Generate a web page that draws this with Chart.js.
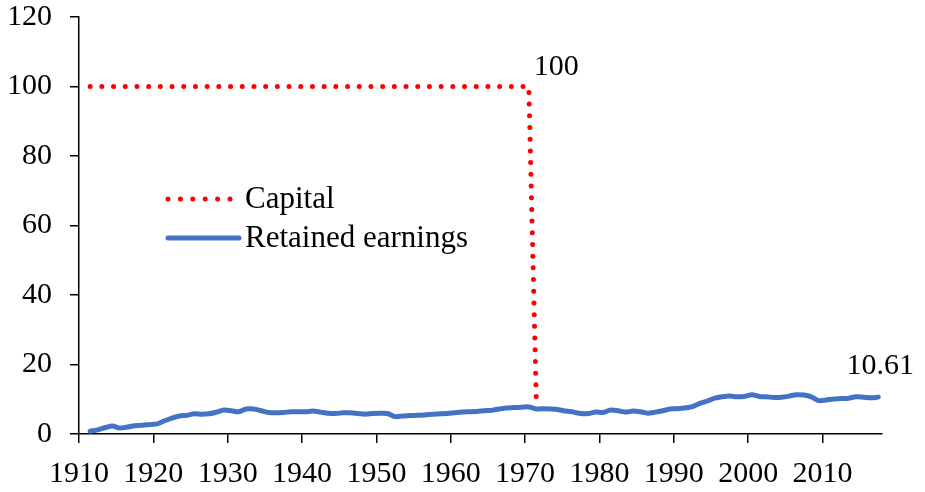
<!DOCTYPE html>
<html>
<head>
<meta charset="utf-8">
<script src="https://cdn.jsdelivr.net/npm/chart.js@4.4.1/dist/chart.umd.min.js"></script>
<style>
    html, body { margin: 0; padding: 0; background: #fff; }
    #wrap { width: 925px; height: 492px; position: relative; }
</style>
</head>
<body>
<div id="wrap"><canvas id="chart" width="925" height="492"></canvas></div>
<script>
// first and last year of the annual series
const firstYear = 1911;
const lastYear = 2017;

// capital, 1911 to 1971
const capital = [
    100, 100, 100, 100, 100, 100, 100, 100, 100, 100,
    100, 100, 100, 100, 100, 100, 100, 100, 100, 100,
    100, 100, 100, 100, 100, 100, 100, 100, 100, 100,
    100, 100, 100, 100, 100, 100, 100, 100, 100, 100,
    100, 100, 100, 100, 100, 100, 100, 100, 100, 100,
    100, 100, 100, 100, 100, 100, 100, 100, 100, 100,
    10
];

// retained earnings, 1911 to 2017
const retained = [
    0.8, 1.2, 1.8, 2.3, 1.7, 2.0, 2.4, 2.5, 2.7, 2.9,
    3.8, 4.6, 5.2, 5.4, 5.8, 5.7, 5.8, 6.3, 6.9, 6.7,
    6.4, 7.2, 7.2, 6.7, 6.2, 6.1, 6.2, 6.4, 6.4, 6.4,
    6.6, 6.3, 6.0, 5.9, 6.1, 6.1, 5.9, 5.7, 5.9, 6.0,
    5.9, 5.0, 5.2, 5.3, 5.4, 5.5, 5.7, 5.8, 5.9, 6.1,
    6.3, 6.4, 6.5, 6.7, 6.8, 7.2, 7.5, 7.6, 7.7, 7.8,
    7.2, 7.3, 7.2, 7.0, 6.6, 6.3, 5.9, 5.9, 6.3, 6.2,
    6.9, 6.7, 6.3, 6.6, 6.4, 6.0, 6.3, 6.7, 7.2, 7.3,
    7.5, 7.9, 8.8, 9.5, 10.3, 10.7, 10.9, 10.7, 10.8, 11.3,
    10.8, 10.7, 10.5, 10.6, 10.9, 11.3, 11.2, 10.7, 9.6, 9.8,
    10.1, 10.2, 10.3, 10.7, 10.6, 10.4, 10.61
];

const yTicks = [0, 20, 40, 60, 80, 100, 120];
const xTicks = [1910, 1920, 1930, 1940, 1950, 1960, 1970, 1980, 1990, 2000, 2010];

const legendLabels = ["Capital", "Retained earnings"];
const capitalLabel = "100";
const retainedLabel = "10.61";

const FONT = "\"Liberation Serif\", \"Times New Roman\", serif";
const FONT_SIZE = 30;
const RED = "#ff0000";
const BLUE = "#4472c4";

// each year sits in the middle of its one-year slot on the axis
function toPoints(values) {
    return values.map((v, i) => ({ x: firstYear + i + 0.5, y: v }));
}

const legendPlugin = {
    id: "insideLegend",
    afterDraw(chart) {
        const ctx = chart.ctx;
        const area = chart.chartArea;
        const x0 = area.left + 89;
        const x1 = area.left + 153;
        const tx = area.left + 166;
        const rows = [area.top + 182, area.top + 221];
        ctx.save();
        ctx.lineCap = "round";
        // dotted sample
        ctx.strokeStyle = RED;
        ctx.lineWidth = 5;
        ctx.setLineDash([0, 12.4]);
        ctx.beginPath();
        ctx.moveTo(x0, rows[0]);
        ctx.lineTo(x1 + 1, rows[0]);
        ctx.stroke();
        // solid sample
        ctx.strokeStyle = BLUE;
        ctx.lineWidth = 5;
        ctx.setLineDash([]);
        ctx.beginPath();
        ctx.moveTo(x0, rows[1]);
        ctx.lineTo(x1 + 7, rows[1]);
        ctx.stroke();
        ctx.fillStyle = "#000";
        ctx.font = "31px " + FONT;
        ctx.textBaseline = "middle";
        ctx.textAlign = "left";
        ctx.fillText(legendLabels[0], tx, rows[0] + 1);
        ctx.fillText(legendLabels[1], tx, rows[1] + 1);
        ctx.restore();
    }
};

const valueLabelPlugin = {
    id: "valueLabels",
    afterDatasetsDraw(chart) {
        const ctx = chart.ctx;
        const capMeta = chart.getDatasetMeta(0).data;
        const retMeta = chart.getDatasetMeta(1).data;
        const capPeak = capMeta[capMeta.length - 2];
        const retEnd = retMeta[retMeta.length - 1];
        ctx.save();
        ctx.fillStyle = "#000";
        ctx.font = FONT_SIZE + "px " + FONT;
        ctx.textBaseline = "middle";
        ctx.textAlign = "left";
        ctx.fillText(capitalLabel, capPeak.x + 5, capPeak.y - 19);
        ctx.textAlign = "center";
        ctx.fillText(retainedLabel, retEnd.x + 2, retEnd.y - 31);
        ctx.restore();
    }
};

new Chart(document.getElementById("chart"), {
    type: "line",
    data: {
        datasets: [
            {
                label: legendLabels[0],
                data: toPoints(capital),
                borderColor: RED,
                borderWidth: 5,
                borderDash: [0, 11.7],
                borderCapStyle: "round",
                pointRadius: 0,
                tension: 0,
                fill: false
            },
            {
                label: legendLabels[1],
                data: toPoints(retained),
                borderColor: BLUE,
                borderWidth: 5,
                borderCapStyle: "round",
                borderJoinStyle: "round",
                pointRadius: 0,
                tension: 0.3,
                fill: false
            }
        ]
    },
    options: {
        responsive: false,
        animation: false,
        events: [],
        layout: { padding: { top: 17, right: 43, left: 0, bottom: 0 } },
        plugins: {
            legend: { display: false },
            tooltip: { enabled: false }
        },
        scales: {
            x: {
                type: "linear",
                min: xTicks[0],
                max: lastYear + 1,
                afterBuildTicks: scale => {
                    scale.ticks = xTicks.map(v => ({ value: v }));
                },
                afterFit: scale => {
                    scale.height = 58;
                    scale.paddingLeft = 0;
                    scale.paddingRight = 0;
                },
                grid: { drawOnChartArea: false, drawTicks: true, tickLength: 9, color: "#000", lineWidth: 1.5 },
                border: { color: "#000", width: 1.5 },
                ticks: {
                    color: "#000",
                    font: { family: FONT, size: FONT_SIZE, lineHeight: 1 },
                    padding: 16,
                    maxRotation: 0,
                    autoSkip: false,
                    callback: v => String(v)
                }
            },
            y: {
                min: yTicks[0],
                max: yTicks[yTicks.length - 1],
                afterBuildTicks: scale => {
                    scale.ticks = yTicks.map(v => ({ value: v }));
                },
                afterFit: scale => {
                    scale.width = 79;
                    scale.paddingTop = 0;
                    scale.paddingBottom = 0;
                },
                grid: { drawOnChartArea: false, drawTicks: true, tickLength: 9, color: "#000", lineWidth: 1.5 },
                border: { color: "#000", width: 1.5 },
                ticks: {
                    color: "#000",
                    font: { family: FONT, size: FONT_SIZE, lineHeight: 1 },
                    padding: 18
                }
            }
        }
    },
    plugins: [legendPlugin, valueLabelPlugin]
});
</script>
</body>
</html>
